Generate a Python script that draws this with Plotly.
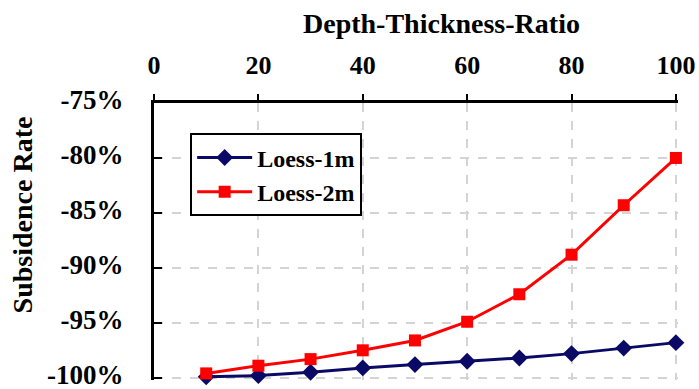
import plotly.graph_objects as go

# Depth-thickness ratio (x) and subsidence rate in percent (y)
ratio = [10, 20, 30, 40, 50, 60, 70, 80, 90, 100]
loess_1m = [-99.9, -99.8, -99.5, -99.1, -98.8, -98.5, -98.2, -97.8, -97.3, -96.8]
loess_2m = [-99.6, -98.9, -98.3, -97.5, -96.6, -94.9, -92.4, -88.8, -84.3, -80.0]

x_ticks = [0, 20, 40, 60, 80, 100]
y_ticks = [-100, -95, -90, -85, -80, -75]
y_tick_text = ["<b>-100%</b>", "<b>-95%</b>", "<b>-90%</b>", "<b>-85%</b>", "<b>-80%</b>", "<b>-75%</b>"]
x_tick_text = ["<b>%d</b>" % v for v in x_ticks]

SERIF = "Liberation Serif, Times New Roman, serif"

fig = go.Figure()
fig.add_trace(go.Scatter(
    x=ratio, y=loess_1m, name="<b>Loess-1m</b>", mode="lines+markers",
    legendgroup="a",
    line=dict(color="#0a0a66", width=3),
    marker=dict(symbol="diamond", size=13, color="#0a0a66"),
    cliponaxis=False,
))
fig.add_trace(go.Scatter(
    x=ratio, y=loess_2m, name="<b>Loess-2m</b>", mode="lines+markers",
    legendgroup="b",
    line=dict(color="#ff0000", width=3),
    marker=dict(symbol="square", size=12, color="#ff0000"),
    cliponaxis=False,
))

grid = dict(gridcolor="#d4d4d4", griddash="dash", gridwidth=2)

fig.update_layout(
    width=699, height=389,
    margin=dict(l=154, r=21, t=103, b=9),
    paper_bgcolor="white", plot_bgcolor="white",
    font=dict(family=SERIF, color="black"),
    showlegend=True,
    legend=dict(
        x=0.069, y=0.89, xanchor="left", yanchor="top",
        bgcolor="white", bordercolor="black", borderwidth=2,
        font=dict(family=SERIF, size=24, color="black"),
        tracegroupgap=0, itemwidth=55,
    ),
    xaxis=dict(
        side="top", range=[0, 100.4], tickvals=x_ticks, ticktext=x_tick_text,
        showline=True, linecolor="black", linewidth=3,
        ticks="outside", ticklen=6, tickwidth=2, tickcolor="black",
        tickfont=dict(family=SERIF, size=26),
        ticklabelstandoff=10, ticklabeloverflow="allow", automargin=False,
        zeroline=False, **grid,
    ),
    yaxis=dict(
        range=[-100.2, -75], tickvals=y_ticks, ticktext=y_tick_text,
        showline=True, linecolor="black", linewidth=3,
        ticks="inside", ticklen=8, tickwidth=2, tickcolor="black",
        tickfont=dict(family=SERIF, size=27),
        ticklabelstandoff=22, ticklabelshift=-3,
        ticklabeloverflow="allow", automargin=False,
        zeroline=False, **grid,
    ),
    annotations=[
        dict(text="<b>Depth-Thickness-Ratio</b>", xref="paper", yref="paper",
             x=0.548, y=1.287, xanchor="center", yanchor="middle",
             showarrow=False, font=dict(family=SERIF, size=28)),
        dict(text="<b>Subsidence Rate</b>", xref="paper", yref="paper",
             x=-0.251, y=0.596, xanchor="center", yanchor="middle",
             textangle=-90, showarrow=False,
             font=dict(family=SERIF, size=28)),
    ],
)

fig.write_html("out.html")
